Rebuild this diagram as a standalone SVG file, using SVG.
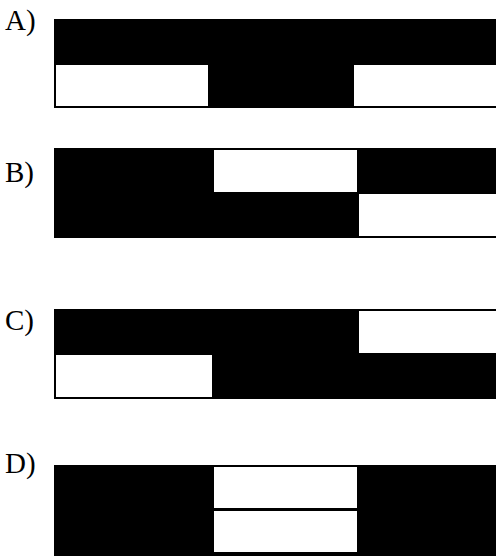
<svg xmlns="http://www.w3.org/2000/svg" width="496" height="556" viewBox="0 0 496 556">
<style>
.lbl{font-family:"Liberation Serif","Times New Roman",serif;font-size:29px;fill:#000}
.blk{fill:#000}
.wht{fill:#fff}
</style>
<rect width="496" height="556" fill="#fff"/>
<g id="panelA">
<text class="lbl" x="5" y="29.5">A)</text>
<rect class="blk" x="54" y="19" width="448" height="89"/>
<rect class="wht" x="56" y="65" width="152" height="41"/>
<rect class="wht" x="354" y="65" width="146" height="41"/>
</g>
<g id="panelB">
<text class="lbl" x="5" y="181.5">B)</text>
<rect class="blk" x="54" y="148" width="448" height="90"/>
<rect class="wht" x="214" y="150" width="143" height="42"/>
<rect class="wht" x="359" y="194" width="141" height="42"/>
</g>
<g id="panelC">
<text class="lbl" x="5" y="329.5">C)</text>
<rect class="blk" x="54" y="309" width="448" height="90"/>
<rect class="wht" x="359" y="311" width="141" height="42"/>
<rect class="wht" x="56" y="355" width="156" height="42"/>
</g>
<g id="panelD">
<text class="lbl" x="5" y="473">D)</text>
<rect class="blk" x="54" y="465" width="448" height="95"/>
<rect class="wht" x="214" y="467" width="143" height="41"/>
<rect class="wht" x="214" y="511" width="143" height="41"/>
</g>
</svg>
